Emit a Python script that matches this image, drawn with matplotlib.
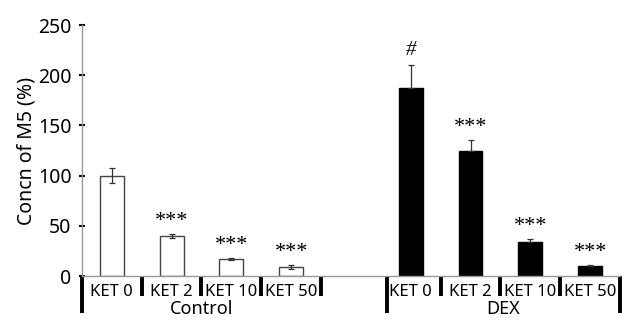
import matplotlib
matplotlib.use("Agg")
import matplotlib.pyplot as plt

# data
doses = ["KET 0", "KET 2", "KET 10", "KET 50"]
groups = ["Control", "DEX"]
control_vals = [100, 39.5, 16.6, 8.7]
control_err = [7.5, 2, 1, 2]
dex_vals = [187, 125, 33.6, 10.3]
dex_err = [23, 10, 3, 1]
control_marks = ["", "***", "***", "***"]
dex_marks = ["#", "***", "***", "***"]

plt.rcParams['font.family'] = ['Noto Sans', 'DejaVu Sans']

fig = plt.figure(figsize=(6.25, 3.23), dpi=100)
ax = fig.add_axes([0.131, 0.1455, 0.861, 0.777])

x_ctrl = list(range(4))
x_dex = [5 + i for i in range(4)]
w = 0.4

ax.bar(x_ctrl, control_vals, width=w, color="white", edgecolor="#444444", linewidth=1)
ax.errorbar(x_ctrl, control_vals, yerr=control_err, fmt="none", ecolor="#333333",
            elinewidth=0.9, capsize=2.5, capthick=0.9)
ax.bar(x_dex, dex_vals, width=w, color="black", edgecolor="black", linewidth=1)
ax.errorbar(x_dex, dex_vals, yerr=[[0] * 4, dex_err], fmt="none", ecolor="#333333",
            elinewidth=0.9, capsize=2.5, capthick=0.9)

for xs, vals, errs, marks in [(x_ctrl, control_vals, control_err, control_marks),
                              (x_dex, dex_vals, dex_err, dex_marks)]:
    for xi, v, e, m in zip(xs, vals, errs, marks):
        if m == "#":
            ax.text(xi, v + e + 5, m, ha="center", va="bottom", fontsize=15,
                    family="Liberation Serif", style="italic")
        elif m:
            ax.text(xi, v + e + 3, m, ha="center", va="bottom", fontsize=16,
                    family="Liberation Serif")

ax.set_xlim(-0.5, 8.5)
ax.set_ylim(0, 250)
ax.set_yticks([0, 50, 100, 150, 200, 250])
ax.tick_params(axis="y", direction="inout", length=5, width=1.5, labelsize=14, pad=5)
ax.set_xticks([])
ax.set_ylabel("Concn of M5 (%)", fontsize=14, labelpad=1)

for s in ["top", "right"]:
    ax.spines[s].set_visible(False)
ax.spines["left"].set_color("#999999")
ax.spines["bottom"].set_color("#999999")
ax.spines["left"].set_linewidth(1)
ax.spines["bottom"].set_linewidth(1)

# category dividers below the axis
short = [0.5, 1.5, 2.5, 3.5, 5.5, 6.5, 7.5]
long_ = [-0.5, 4.6, 8.5]
for d in short:
    ax.plot([d, d], [0, -20], color="black", lw=2.8, clip_on=False, solid_capstyle="butt")
for d in long_:
    ax.plot([d, d], [0, -37], color="black", lw=2.8, clip_on=False, solid_capstyle="butt")

for xi, lab in zip(x_ctrl + x_dex, doses + doses):
    ax.text(xi, -16, lab, ha="center", va="center", fontsize=12)
ax.text(1.5, -33, groups[0], ha="center", va="center", fontsize=13)
ax.text(6.55, -33, groups[1], ha="center", va="center", fontsize=13)

fig.savefig("out.png", dpi=100)
